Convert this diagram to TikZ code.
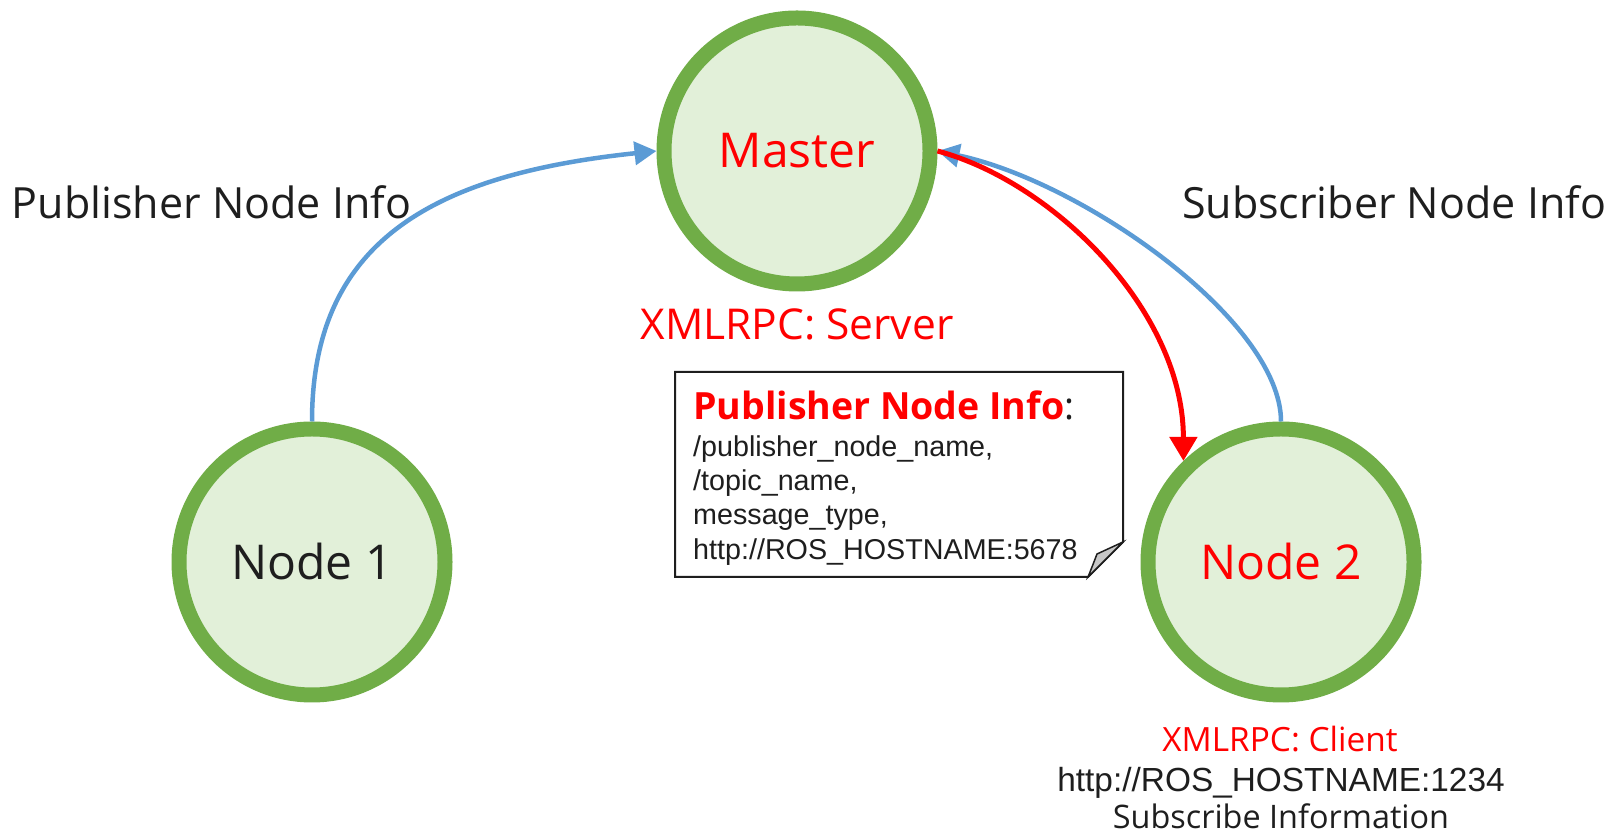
\documentclass[tikz,border=0pt]{standalone}
\usepackage{fontspec}
\setmainfont{Open Sans}
\newfontfamily\arialf{Liberation Sans}
\usetikzlibrary{arrows.meta}
\definecolor{ngreen}{HTML}{70AD47}
\definecolor{nfill}{HTML}{E2F0D9}
\definecolor{lblue}{HTML}{5B9BD5}
\definecolor{tred}{HTML}{FF0000}
\definecolor{tdark}{HTML}{1E1E1E}
\begin{document}
\begin{tikzpicture}[x=1pt,y=1pt,
  rosnode/.style={circle, draw=ngreen, fill=nfill, line width=15pt, minimum size=266pt, inner sep=0pt, font=\fontsize{48}{56}\selectfont},
  infoarrow/.style={draw=lblue, line width=4.5pt, -{Triangle[length=22pt,width=23pt]}},
  regarrow/.style={draw=tred, line width=5pt, -{Triangle[length=24pt,width=27pt]}},
  biglabel/.style={font=\fontsize{43}{50}\selectfont, text=tdark, inner sep=0pt, anchor=base},
  redlabel/.style={font=\fontsize{42.5}{50}\selectfont, text=tred, inner sep=0pt, anchor=base},
  smallred/.style={font=\fontsize{33.4}{40}\selectfont, text=tred, inner sep=0pt, anchor=base},
  smalllabel/.style={font=\fontsize{32.4}{40}\selectfont, text=tdark, inner sep=0pt, anchor=base},
  urllabel/.style={font=\arialf\fontsize{33.4}{40}\selectfont, text=tdark, inner sep=0pt, anchor=base},
  notetitle/.style={font=\bfseries\fontsize{37.5}{44}\selectfont, inner sep=0pt, anchor=base west},
  noteline/.style={font=\arialf\fontsize{28.7}{34}\selectfont, text=tdark, inner sep=0pt, anchor=base west},
  notebox/.style={draw=tdark, line width=2pt, fill=white},
  notefold/.style={draw=tdark, line width=1.5pt, fill=black!22}
]
\useasboundingbox (0,0) rectangle (1611,837);

% nodes
\node[rosnode, text=tred] (m) at (797,686) {Master};
\node[rosnode, text=tdark] (n1) at (312,275) {Node 1};
\node[rosnode, text=tred] (n2) at (1281,275) {Node 2};

% labels
\node[biglabel] (pubinfo) at (211.5,618) {Publisher Node Info};
\node[biglabel] (subinfo) at (1394,618) {Subscriber Node Info};
\node[redlabel] (srv) at (797,497) {XMLRPC: Server};
\node[smallred] (cli) at (1280,85) {XMLRPC: Client};
\node[urllabel] (url) at (1281,45) {http://ROS\_HOSTNAME:1234};
\node[smalllabel] (subinf) at (1281,8) {Subscribe Information};

% note box
\coordinate (bsw) at (675,260);
\coordinate (bnw) at (675,465);
\coordinate (bne) at (1123,465);
\coordinate (bfe) at (1123,295);
\coordinate (bfs) at (1088,260);
\coordinate (bfi) at (1097,283);
\draw[notebox] (bsw) -- (bnw) -- (bne) -- (bfe) -- (bfs) -- cycle;
\draw[notefold] (bfs) .. controls (1092,270) .. (bfi) -- (bfe) -- cycle;
\node[notetitle] (nt) at (693,417) {\textcolor{tred}{Publisher Node Info}\textcolor{tdark}{\mdseries:}};
\node[noteline] (l1) at (693,380) {/publisher\_node\_name,};
\node[noteline] (l2) at (693,346) {/topic\_name,};
\node[noteline] (l3) at (693,312) {message\_type,};
\node[noteline] (l4) at (693,277) {http://ROS\_HOSTNAME:5678};

% connectors
\draw[infoarrow] (n1.north) .. controls +(90:180) and +(186:225) .. (m.west);
\draw[infoarrow] (n2.north) .. controls +(90:100) and +(-12:150) .. (m.east);
\draw[regarrow] (m.east) .. controls +(-15:120) and +(90:150) .. (n2.134);
\end{tikzpicture}
\end{document}
